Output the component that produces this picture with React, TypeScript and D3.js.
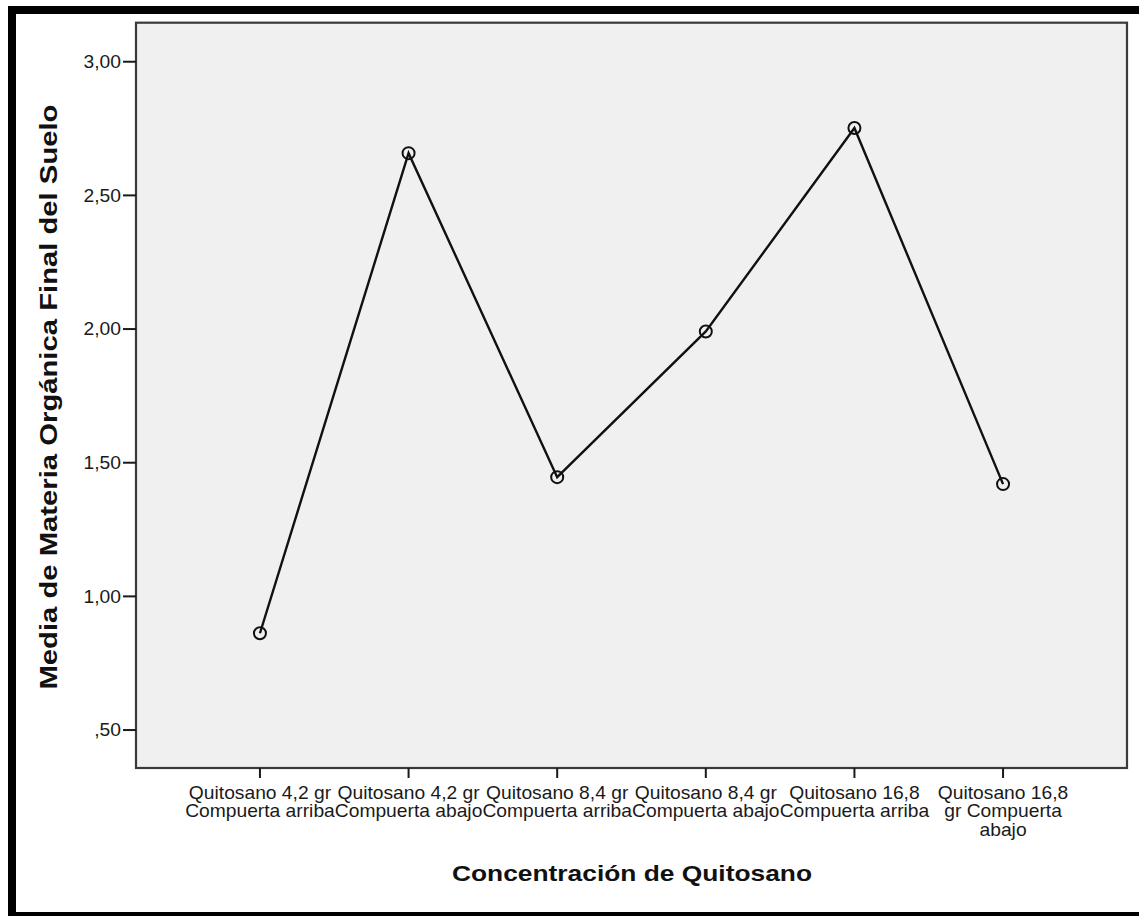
import React from "react";
import * as d3 from "d3";

const categories: string[][] = [
  ["Quitosano 4,2 gr", "Compuerta arriba"],
  ["Quitosano 4,2 gr", "Compuerta abajo"],
  ["Quitosano 8,4 gr", "Compuerta arriba"],
  ["Quitosano 8,4 gr", "Compuerta abajo"],
  ["Quitosano 16,8", "Compuerta arriba"],
  ["Quitosano 16,8", "gr Compuerta", "abajo"],
];
const means: number[] = [0.862, 2.658, 1.446, 1.991, 2.752, 1.42];
const yTicks: number[] = [0.5, 1.0, 1.5, 2.0, 2.5, 3.0];
const yTickLabels: string[] = [",50", "1,00", "1,50", "2,00", "2,50", "3,00"];
const xTitle = "Concentración de Quitosano";
const yTitle = "Media de Materia Orgánica Final del Suelo";

const W = 1139;
const H = 916;
const plot = { left: 136, right: 1127, top: 22.7, bottom: 768 };
const font = "Arial, 'Liberation Sans', Helvetica, sans-serif";
const sx = 1.1;

export default function App() {
  const x = d3
    .scalePoint<number>()
    .domain(d3.range(categories.length))
    .range([plot.left, plot.right])
    .padding(0.834);
  const y = d3.scaleLinear().domain([0.358, 3.146]).range([plot.bottom, plot.top]);
  const line = d3
    .line<number>()
    .x((_, i) => x(i) as number)
    .y((d) => y(d));

  return (
    <svg
      width={W}
      height={H}
      style={{ position: "absolute", left: 0, top: 0, background: "#fff" }}
      fontFamily={font}
    >
      <rect x={0} y={0} width={W} height={H} fill="#ffffff" />
      <rect x={12} y={10} width={W + 20} height={906} fill="none" stroke="#000" strokeWidth={8} />
      {/* plot area */}
      <rect
        x={plot.left}
        y={plot.top}
        width={plot.right - plot.left}
        height={plot.bottom - plot.top}
        fill="#f0f0f0"
        stroke="#3a3a3a"
        strokeWidth={2.2}
      />
      {/* y ticks */}
      {yTicks.map((t, i) => (
        <g key={"yt" + i}>
          <line x1={123} x2={plot.left} y1={y(t)} y2={y(t)} stroke="#1a1a1a" strokeWidth={2} />
          <text
            transform={`translate(121,${y(t)}) scale(${sx},1)`}
            textAnchor="end"
            dominantBaseline="central"
            fontSize={17.5}
            fill="#1a1a1a"
          >
            {yTickLabels[i]}
          </text>
        </g>
      ))}
      {/* x ticks */}
      {categories.map((lines, i) => (
        <g key={"xt" + i}>
          <line
            x1={x(i) as number}
            x2={x(i) as number}
            y1={plot.bottom}
            y2={plot.bottom + 10}
            stroke="#1a1a1a"
            strokeWidth={2}
          />
          <text
            transform={`translate(${x(i)},0) scale(${sx},1)`}
            textAnchor="middle"
            fontSize={17.5}
            fill="#1a1a1a"
          >
            {lines.map((l, j) => (
              <tspan key={j} x={0} y={799 + j * 18.5}>
                {l}
              </tspan>
            ))}
          </text>
        </g>
      ))}
      {/* data line */}
      <path d={line(means) || ""} fill="none" stroke="#111" strokeWidth={2.4} />
      {means.map((v, i) => (
        <circle
          key={"pt" + i}
          cx={x(i) as number}
          cy={y(v)}
          r={6}
          fill="none"
          stroke="#111"
          strokeWidth={2}
        />
      ))}
      {/* axis titles */}
      <text
        x={632}
        y={881}
        textAnchor="middle"
        fontSize={22}
        fontWeight="bold"
        fill="#111"
        textLength={360}
        lengthAdjust="spacingAndGlyphs"
      >
        {xTitle}
      </text>
      <text
        transform={`translate(57,397) rotate(-90)`}
        textAnchor="middle"
        fontSize={24}
        fontWeight="bold"
        fill="#111"
        textLength={585}
        lengthAdjust="spacingAndGlyphs"
      >
        {yTitle}
      </text>
    </svg>
  );
}
